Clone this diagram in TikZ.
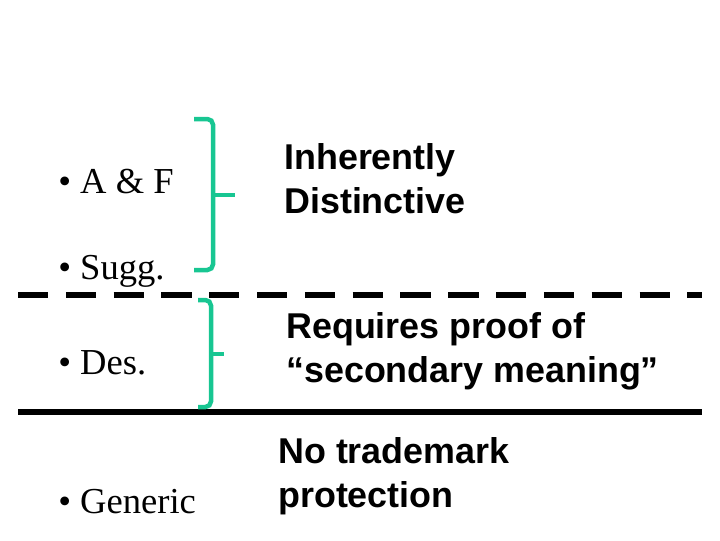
\documentclass[tikz,border=0pt]{standalone}
\usepackage{fontspec}
\setmainfont{Liberation Serif}
\newfontfamily\sans{Liberation Sans}
\definecolor{brk}{RGB}{24,198,146}
\begin{document}
\begin{tikzpicture}[x=0.025cm,y=-0.025cm,
  item/.style={anchor=west,font=\fontsize{26}{30}\selectfont,inner sep=0},
  lab/.style={anchor=north west,align=left,font=\sans\bfseries\fontsize{25.5}{31.5}\selectfont,inner sep=0},
  brace/.style={brk,line width=3.2pt,rounded corners=4pt},
  rule/.style={black,line width=4.3pt}]
\useasboundingbox (0,0) rectangle (720,540);
\node[item] (af) at (58,182) {• A \& F};
\node[item] (sg) at (58,271) {• Sugg.};
\node[item] (ds) at (58,363) {• Des.};
\node[item] (gn) at (58,502) {• Generic};
\draw[rule,dash pattern=on 21.5pt off 12.5pt] (18,295) -- (702,295);
\draw[rule] (18,412) -- (702,412);
\draw[brace] (194,119) -- (213,119) -- (213,270) -- (194,270);
\draw[brace,rounded corners=0] (213,195) -- (235,195);
\draw[brace] (198,300) -- (211,300) -- (211,407) -- (198,407);
\draw[brace,rounded corners=0] (211,354) -- (224,354);
\node[lab] (id) at (284,143) {Inherently\\Distinctive};
\node[lab] (rp) at (286,312) {Requires proof of\\“secondary meaning”};
\node[lab] (nt) at (278,437) {No trademark\\protection};
\end{tikzpicture}
\end{document}
